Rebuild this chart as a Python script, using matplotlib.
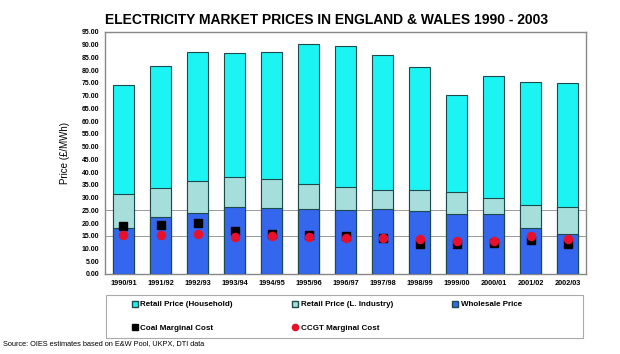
import matplotlib
matplotlib.use("Agg")
import matplotlib.pyplot as plt
import numpy as np
from matplotlib.patches import Patch, Rectangle
from matplotlib.lines import Line2D

plt.rcParams['font.family'] = ['Liberation Sans', 'DejaVu Sans']

years = ["1990/91", "1991/92", "1992/93", "1993/94", "1994/95", "1995/96", "1996/97",
         "1997/98", "1998/99", "1999/00", "2000/01", "2001/02", "2002/03"]
retail_household = [74.1, 81.5, 87.1, 86.7, 87.1, 90.4, 89.7, 86.1, 81.1, 70.4, 77.7, 75.5, 75.1]
retail_industry = [31.5, 33.8, 36.6, 37.9, 37.1, 35.3, 34.1, 32.8, 32.8, 32.3, 29.7, 27.0, 26.3]
wholesale = [18.0, 22.3, 23.9, 26.4, 26.0, 25.6, 25.3, 25.5, 24.7, 23.5, 23.6, 17.9, 15.7]
coal_mc = [18.8, 19.1, 19.9, 16.8, 15.8, 15.4, 14.9, 14.2, 11.9, 11.8, 12.0, 13.3, 11.6]
ccgt_mc = [15.4, 15.4, 15.8, 14.6, 14.9, 14.5, 14.0, 14.1, 13.8, 12.9, 12.8, 14.9, 13.7]
yticks = np.arange(0, 95.01, 5)

W, H = 620, 354
fig = plt.figure(figsize=(6.2, 3.54), dpi=100)
ax = fig.add_axes([105/W, 1-274/H, 481/W, 242/H])

x = np.arange(len(years))
w = 0.57
edge = '#1d4a4a'
c_house = '#1CF4F4'
c_ind = '#A6DEDB'
c_whole = '#3466EE'
c_red = '#E8102A'

for yl in (15, 25):
    ax.axhline(yl, color='#9a9a9a', lw=0.7, zorder=0)

ax.bar(x, retail_household, width=w, color=c_house, edgecolor=edge, lw=0.8, zorder=2)
ax.bar(x, retail_industry, width=w, color=c_ind, edgecolor=edge, lw=0.8, zorder=3)
ax.bar(x, wholesale, width=w, color=c_whole, edgecolor=edge, lw=0.8, zorder=4)
ax.plot(x, coal_mc, ls='none', marker='s', ms=6, color='black', zorder=5)
ax.plot(x, ccgt_mc, ls='none', marker='o', ms=5.8, color=c_red, zorder=6)

ax.set_xlim(-0.5, len(years) - 0.5)
ax.set_ylim(0, 95)
ax.set_yticks(yticks)
ax.set_yticklabels([f"{v:.2f}" for v in yticks], fontsize=5, fontweight='bold')
ax.set_xticks(x)
ax.set_xticklabels(years, fontsize=5.3, fontweight='bold')
ax.tick_params(axis='both', length=0, pad=4)
for s in ax.spines.values():
    s.set_color('#888888')
    s.set_linewidth(1.0)

ax.set_ylabel("Price (£/MWh)", fontsize=7)
ax.yaxis.set_label_coords((70 - 105) / 481, 0.5)
fig.text(327/W, 1-20/H, "ELECTRICITY MARKET PRICES IN ENGLAND & WALES 1990 - 2003",
         ha='center', va='center', fontsize=10, fontweight='bold')

handles = [
    Patch(facecolor=c_house, edgecolor=edge, label="Retail Price (Household)"),
    Line2D([], [], ls='none', marker='s', ms=4.5, color='black', label="Coal Marginal Cost"),
    Patch(facecolor=c_ind, edgecolor=edge, label="Retail Price (L. Industry)"),
    Line2D([], [], ls='none', marker='o', ms=4.5, color=c_red, label="CCGT Marginal Cost"),
    Patch(facecolor=c_whole, edgecolor=edge, label="Wholesale Price"),
]
# legend frame
fig.add_artist(Rectangle((106/W, 1-338/H), (583-106)/W, (338-295)/H, transform=fig.transFigure,
                         facecolor='white', edgecolor='#aaaaaa', lw=0.8, zorder=1))
leg = fig.legend(handles=handles, ncol=3, loc='center left',
                 bbox_to_anchor=(132/W, 1-316.5/H, (522-132)/W, 0.0), mode='expand',
                 prop={'size': 5.8, 'weight': 'bold'}, handlelength=0.75, handleheight=0.75,
                 handletextpad=0.3, frameon=False, borderaxespad=0, borderpad=0,
                 columnspacing=1.0, labelspacing=2.0)
leg.set_zorder(2)

fig.text(3/W, 1-344/H, "Source: OIES estimates based on E&W Pool, UKPX, DTI data",
         ha='left', va='center', fontsize=5.3)

fig.savefig("out.png", dpi=100)
